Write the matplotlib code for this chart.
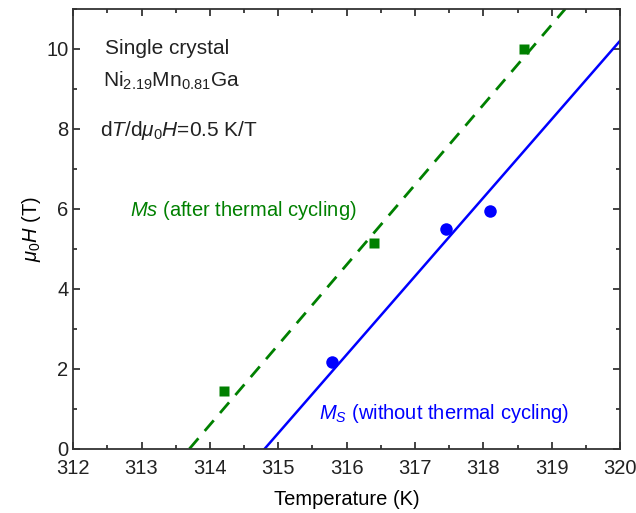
import matplotlib.pyplot as plt
from matplotlib.ticker import MultipleLocator

plt.rcParams['font.family'] = ['Liberation Sans', 'DejaVu Sans']
plt.rcParams['mathtext.fontset'] = 'custom'
plt.rcParams['mathtext.rm'] = 'Liberation Sans'
plt.rcParams['mathtext.it'] = 'Liberation Sans:italic'

# Ms after thermal cycling (green squares)
t_after = [314.2, 316.4, 318.6]
h_after = [1.45, 5.15, 10.0]
# Ms without thermal cycling (blue circles)
t_without = [315.78, 317.45, 318.1]
h_without = [2.17, 5.5, 5.95]
# linear fits, dT/dH = 0.5 K/T
fit_after_t = [313.7, 319.2]
fit_after_h = [0.0, 11.0]
fit_without_t = [314.8, 320.0]
fit_without_h = [0.0, 10.2]

green = '#008000'
blue = '#0000ff'
dark = '#222222'

fig, ax = plt.subplots(figsize=(6.36, 5.13), dpi=100)
fig.subplots_adjust(left=0.115, right=0.975, top=0.983, bottom=0.125)

ax.plot(fit_after_t, fit_after_h, color=green, lw=2, ls=(0, (5, 3.5)))
ax.plot(fit_without_t, fit_without_h, color=blue, lw=1.8)
ax.plot(t_after, h_after, 's', color=green, ms=7.5, mec='none')
ax.plot(t_without, h_without, 'o', color=blue, ms=9, mec='none')

ax.set_xlim(312, 320)
ax.set_ylim(0, 11)
ax.xaxis.set_major_locator(MultipleLocator(1))
ax.xaxis.set_minor_locator(MultipleLocator(0.5))
ax.yaxis.set_major_locator(MultipleLocator(2))
ax.yaxis.set_minor_locator(MultipleLocator(1))
ax.tick_params(which='both', direction='in', top=True, right=True,
               labelsize=14.5, width=1.2, colors=dark)
ax.tick_params(axis='x', pad=7)
ax.tick_params(which='major', length=5)
ax.tick_params(which='minor', length=3)
for s in ax.spines.values():
    s.set_linewidth(1.3)
    s.set_color('#333333')

ax.set_xlabel('Temperature (K)', fontsize=14.5, labelpad=9)
ax.set_ylabel(r'$\mu_0H$ (T)', fontsize=14.5, labelpad=2)

ax.text(312.47, 10.0, 'Single crystal', fontsize=15, va='center', color=dark)
ax.text(312.44, 9.2, r'Ni$_{2.19}$Mn$_{0.81}$Ga', fontsize=15, va='center', color=dark)
ax.text(312.39, 7.95, r'd$T$/d$\mu_0H$=0.5 K/T', fontsize=15, va='center', color=dark)
ax.text(312.83, 5.95, r'$Ms$ (after thermal cycling)', fontsize=14.5, va='center', color=green)
ax.text(315.6, 0.88, r'$M_S$ (without thermal cycling)', fontsize=14.5, va='center', color=blue)

fig.savefig('out.png', dpi=100)
